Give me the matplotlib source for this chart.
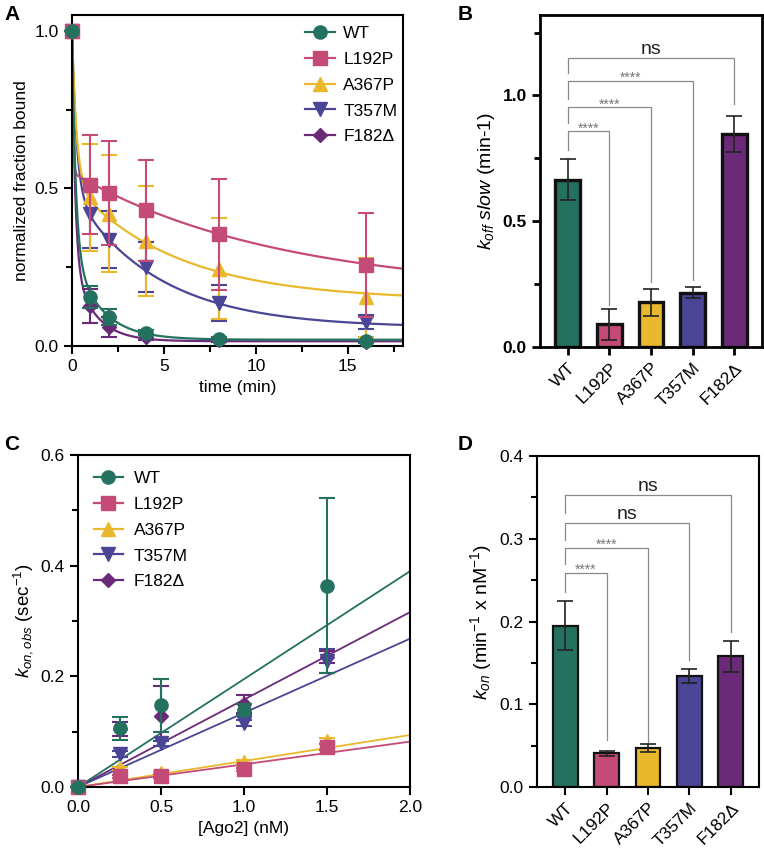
import numpy as np
import matplotlib
matplotlib.use("Agg")
import matplotlib.pyplot as plt
from matplotlib.lines import Line2D
from matplotlib.ticker import MultipleLocator, FormatStrFormatter

plt.rcParams['font.family'] = ['Liberation Sans', 'DejaVu Sans']
plt.rcParams['mathtext.fontset'] = 'custom'
plt.rcParams['mathtext.rm'] = 'Liberation Sans'
plt.rcParams['mathtext.it'] = 'Liberation Sans:italic'
plt.rcParams['mathtext.bf'] = 'Liberation Sans:bold'

# ---------------- data ----------------
variants = ["WT", "L192P", "A367P", "T357M", "F182Δ"]
colors = ["#257160", "#c44a78", "#e9b82d", "#4a4594", "#6b2a78"]
markers = ["o", "s", "^", "v", "D"]
msizes = [9.5, 9.5, 9.5, 9.5, 7.5]

# Panel A: dissociation time course
time_min = [0, 1, 2, 4, 8, 16]
frac_WT = [1.0, 0.155, 0.092, 0.042, 0.023, 0.015]
frac_L192P = [1.0, 0.512, 0.485, 0.43, 0.354, 0.258]
frac_A367P = [1.0, 0.472, 0.42, 0.333, 0.245, 0.155]
frac_T357M = [1.0, 0.42, 0.337, 0.25, 0.136, 0.075]
frac_F182D = [1.0, 0.126, 0.06, 0.028, 0.018, 0.013]
err_WT = [0.0, 0.035, 0.025, 0.008, 0.005, 0.005]
err_L192P = [0.0, 0.157, 0.165, 0.16, 0.177, 0.165]
err_A367P = [0.0, 0.17, 0.185, 0.175, 0.16, 0.125]
err_T357M = [0.0, 0.11, 0.09, 0.08, 0.057, 0.022]
err_F182D = [0.0, 0.054, 0.032, 0.01, 0.005, 0.005]

# two-phase decay fit parameters (panel A curves)
fit_plateau = [0.02, 0.17, 0.145, 0.058, 0.015]
fit_slow_amp = [0.28, 0.38, 0.37, 0.43, 0.25]
fit_k_fast = [5.0, 20.0, 4.0, 4.0, 6.0]

# Panel B: koff slow
koff_slow = [0.665, 0.09, 0.177, 0.216, 0.848]
koff_err = [0.082, 0.062, 0.054, 0.022, 0.072]

# Panel C: kon,obs vs [Ago2]
ago2_nM = [0, 0.25, 0.5, 1.0, 1.5]
kobs_WT = [0.0, 0.106, 0.148, 0.14, 0.364]
kobs_L192P = [0.0, 0.019, 0.02, 0.032, 0.072]
kobs_A367P = [0.0, 0.034, 0.026, 0.045, 0.084]
kobs_T357M = [0.0, 0.06, 0.079, 0.116, 0.228]
kobs_F182D = [0.0, 0.105, 0.128, 0.15, 0.235]
kerr_WT = [0.0, 0.021, 0.048, 0.01, 0.158]
kerr_L192P = [0.0, 0.003, 0.003, 0.003, 0.005]
kerr_A367P = [0.0, 0.003, 0.003, 0.003, 0.005]
kerr_T357M = [0.0, 0.005, 0.005, 0.005, 0.022]
kerr_F182D = [0.0, 0.012, 0.054, 0.016, 0.01]

# Panel D: kon
kon = [0.195, 0.041, 0.047, 0.134, 0.158]
kon_err = [0.03, 0.003, 0.005, 0.008, 0.019]

# significance brackets: (i, j, y, left_leg_bottom, right_leg_bottom, label)
sig_B = [(0, 1, 0.857, 0.782, 0.167, "****"),
         (0, 2, 0.953, 0.889, 0.259, "****"),
         (0, 3, 1.057, 0.988, 0.266, "****"),
         (0, 4, 1.150, 1.088, 0.967, "ns")]
sig_D = [(0, 1, 0.259, 0.236, 0.057, "****"),
         (0, 2, 0.289, 0.270, 0.054, "****"),
         (0, 3, 0.319, 0.299, 0.154, "ns"),
         (0, 4, 0.353, 0.331, 0.187, "ns")]

fracs = [frac_WT, frac_L192P, frac_A367P, frac_T357M, frac_F182D]
ferrs = [err_WT, err_L192P, err_A367P, err_T357M, err_F182D]
kobs = [kobs_WT, kobs_L192P, kobs_A367P, kobs_T357M, kobs_F182D]
kerrs = [kerr_WT, kerr_L192P, kerr_A367P, kerr_T357M, kerr_F182D]

FS = 12.5
W, H = 764, 848
fig = plt.figure(figsize=(W / 100, H / 100), dpi=100)


def ax_px(l, t, r, b):
    return fig.add_axes([l / W, 1 - b / H, (r - l) / W, (b - t) / H])


def style(ax, lw=1.5):
    for s in ["left", "bottom", "right", "top"]:
        ax.spines[s].set_linewidth(lw)
    ax.tick_params(which="major", direction="out", length=6, width=lw, labelsize=FS)
    ax.tick_params(which="minor", direction="out", length=4, width=lw)


# ---------------- Panel A ----------------
axA = ax_px(72, 15, 403, 346)
style(axA)
tt = np.linspace(0, 18, 600)
for i in reversed(range(5)):
    c = colors[i]
    fast_amp = 1 - fit_plateau[i] - fit_slow_amp[i]
    curve = fit_plateau[i] + fit_slow_amp[i] * np.exp(-koff_slow[i] * tt) + fast_amp * np.exp(-fit_k_fast[i] * tt)
    axA.plot(tt, curve, color=c, lw=1.6, zorder=2 + (5 - i) * 0.1)
    axA.errorbar(time_min, fracs[i], yerr=ferrs[i], fmt=markers[i], color=c, ms=msizes[i],
                 ecolor=c, elinewidth=1.5, capsize=6, capthick=1.5, zorder=3 + (5 - i) * 0.1, clip_on=False)
axA.set_xlim(0, 18)
axA.set_ylim(0, 1.05)
axA.xaxis.set_major_locator(MultipleLocator(5))
axA.xaxis.set_minor_locator(MultipleLocator(2.5))
axA.yaxis.set_major_locator(MultipleLocator(0.5))
axA.yaxis.set_minor_locator(MultipleLocator(0.25))
axA.yaxis.set_major_formatter(FormatStrFormatter("%.1f"))
axA.set_xlabel("time (min)", fontsize=FS)
axA.set_ylabel("normalized fraction bound", fontsize=FS)
handles = [Line2D([], [], color=colors[i], marker=markers[i], ms=msizes[i], lw=1.6) for i in range(5)]
axA.legend(handles, variants, loc="upper right", frameon=False, fontsize=FS,
           handlelength=1.7, handletextpad=0.5, labelspacing=0.62, bbox_to_anchor=(1.03, 1.015))

# ---------------- Panel B ----------------
axB = ax_px(540, 15, 762, 347)
style(axB, lw=2.0)
xb = np.arange(len(variants))
axB.bar(xb, koff_slow, width=0.6, color=colors, edgecolor="#111111", linewidth=2.4, zorder=2)
axB.errorbar(xb, koff_slow, yerr=koff_err, fmt="none", ecolor="#222222", elinewidth=1.2,
             capsize=6, capthick=1.2, zorder=3)
axB.set_xlim(-0.67, 4.67)
axB.set_ylim(0, 1.32)
axB.yaxis.set_major_locator(MultipleLocator(0.5))
axB.yaxis.set_minor_locator(MultipleLocator(0.25))
axB.yaxis.set_major_formatter(FormatStrFormatter("%.1f"))
for lab in axB.get_yticklabels():
    lab.set_fontweight("bold")
axB.set_xticks(xb)
axB.set_xticklabels(variants, rotation=45, ha="right", rotation_mode="anchor", fontsize=FS)
axB.set_ylabel(r"$k_{off}$ $slow$ (min-1)", fontsize=14)


def brackets(ax, sigs, fs_star, fs_ns):
    for (i, j, y, lb, rb, lab) in sigs:
        ax.plot([i, i, j, j], [lb, y, y, rb], color="#8a8a8a", lw=0.9, zorder=1)
        if lab == "ns":
            ax.text((i + j) / 2, y, lab, ha="center", va="bottom", fontsize=fs_ns, color="#222222")
        else:
            ax.text((i + j) / 2, y - 0.012 * (ax.get_ylim()[1]), lab, ha="center", va="bottom",
                    fontsize=fs_star, color="#777777")


brackets(axB, sig_B, 10, 14)

# ---------------- Panel C ----------------
axC = ax_px(78, 455, 410, 787)
style(axC)
xx = np.array([0, 2.0])
for i in reversed(range(5)):
    c = colors[i]
    axC.plot(xx, kon[i] * xx, color=c, lw=1.3, zorder=2)
    axC.errorbar(ago2_nM, kobs[i], yerr=kerrs[i], fmt=markers[i], color=c, ms=msizes[i],
                 ecolor=c, elinewidth=1.5, capsize=6, capthick=1.5, zorder=3 + (5 - i) * 0.1, clip_on=False)
axC.set_xlim(0, 2.0)
axC.set_ylim(0, 0.6)
axC.xaxis.set_major_locator(MultipleLocator(0.5))
axC.yaxis.set_major_locator(MultipleLocator(0.2))
axC.yaxis.set_minor_locator(MultipleLocator(0.1))
axC.xaxis.set_major_formatter(FormatStrFormatter("%.1f"))
axC.yaxis.set_major_formatter(FormatStrFormatter("%.1f"))
axC.set_xlabel("[Ago2] (nM)", fontsize=FS)
axC.set_ylabel(r"$k_{on,obs}$ (sec$^{-1}$)", fontsize=13.5)
handles = [Line2D([], [], color=colors[i], marker=markers[i], ms=msizes[i], lw=1.6) for i in range(5)]
axC.legend(handles, variants, loc="upper left", frameon=False, fontsize=FS,
           handlelength=1.7, handletextpad=0.6, labelspacing=0.62, bbox_to_anchor=(0.0, 1.0))

# ---------------- Panel D ----------------
axD = ax_px(537, 456, 759, 787)
style(axD)
axD.bar(xb, kon, width=0.6, color=colors, edgecolor="#111111", linewidth=1.6, zorder=2)
axD.errorbar(xb, kon, yerr=kon_err, fmt="none", ecolor="#222222", elinewidth=1.2,
             capsize=6, capthick=1.2, zorder=3)
axD.set_xlim(-0.68, 4.68)
axD.set_ylim(0, 0.4)
axD.yaxis.set_major_locator(MultipleLocator(0.1))
axD.yaxis.set_minor_locator(MultipleLocator(0.05))
axD.yaxis.set_major_formatter(FormatStrFormatter("%.1f"))
axD.set_xticks(xb)
axD.set_xticklabels(variants, rotation=45, ha="right", rotation_mode="anchor", fontsize=FS)
axD.set_ylabel(r"$k_{on}$ (min$^{-1}$ x nM$^{-1}$)", fontsize=14)
brackets(axD, sig_D, 10, 14)

# panel letters
for lab, (x, y) in zip("ABCD", [(4, 14), (458, 14), (4, 445), (458, 445)]):
    fig.text(x / W, 1 - y / H, lab, fontsize=15, fontweight="bold", va="center", ha="left")

fig.savefig("out.png", dpi=100)
